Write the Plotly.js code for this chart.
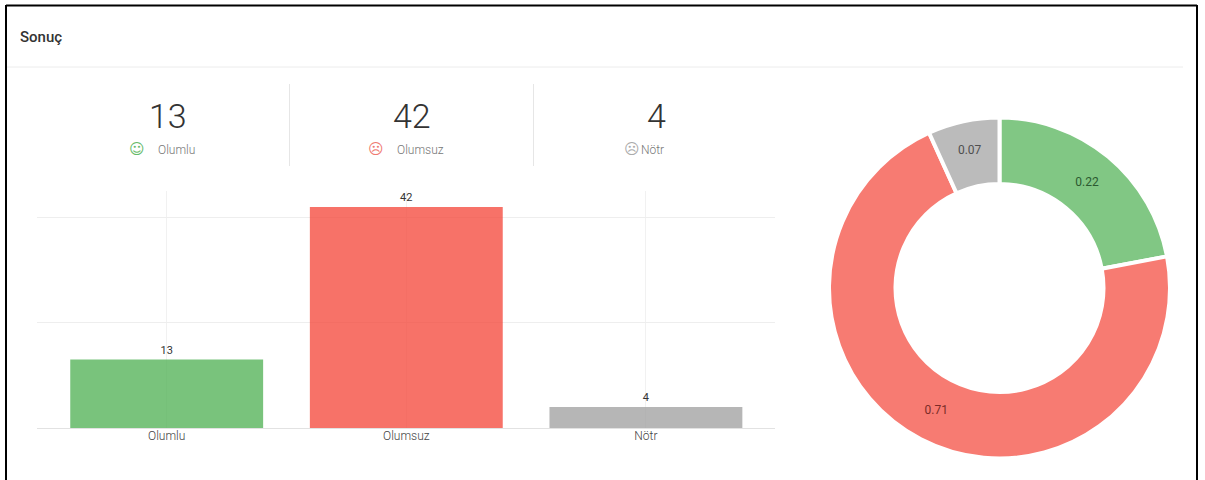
<!DOCTYPE html>
<html><head><meta charset="utf-8">
<script src="https://cdn.plot.ly/plotly-3.0.1.min.js"></script>
<style>html,body{margin:0;padding:0;background:#fff}#c{width:1205px;height:480px}</style></head>
<body><div id="c"></div>
<script>
const categories = ["Olumlu", "Olumsuz", "Nötr"];
const counts = [13, 42, 4];
const shareLabels = ["0.22", "0.71", "0.07"];
const barColors = ["rgba(76,175,80,0.75)", "rgba(244,67,54,0.75)", "rgba(158,158,158,0.75)"];
const pieColors = ["rgba(76,175,80,0.7)", "rgba(244,67,54,0.7)", "rgba(158,158,158,0.7)"];
const pieTextColors = ["#2c5a30", "#7a2c28", "#4f4f4f"];
const iconColors = ["#66BB6A", "#EF7A72", "#ABABAB"];
const iconGlyphs = ["\u263A", "\u2639", "\u2639"];
const statCenters = [168, 412, 656];
const labelCenters = [176, 420, 652];
const iconCenters = [137, 376, 632];
const W = 1205, H = 480;
const px = x => x / W, py = y => 1 - y / H;
const FONT = "Roboto, sans-serif";

const bar = {
  type: "bar", x: categories, y: counts, text: counts.map(String),
  textposition: "outside", cliponaxis: false, width: 0.805,
  textfont: {family: FONT, size: 11, color: "#333"},
  marker: {color: barColors}, hoverinfo: "x+y", showlegend: false
};
const donut = {
  type: "pie", values: counts, labels: categories, text: shareLabels,
  textinfo: "text", textposition: "inside", insidetextorientation: "horizontal",
  sort: false, direction: "clockwise", rotation: 0, hole: 0.61,
  domain: {x: [px(829), px(1170)], y: [py(459.5), py(116.5)]},
  marker: {colors: pieColors, line: {color: "#fff", width: 4}},
  textfont: {family: FONT, size: 12, color: pieTextColors}, showlegend: false
};

const line = (x0, y0, x1, y1, color, width) => ({
  type: "line", xref: "paper", yref: "paper",
  x0: px(x0), y0: py(y0), x1: px(x1), y1: py(y1), line: {color, width}
});
const shapes = [
  line(6, 5.5, 1197, 5.5, "#000", 2),
  line(6, 5, 6, 480, "#000", 2),
  line(1197, 5, 1197, 480, "#000", 2),
  line(7, 67, 1183, 67, "#ececec", 1),
  line(289.5, 84, 289.5, 166, "#e6e6e6", 1),
  line(533.5, 84, 533.5, 166, "#e6e6e6", 1)
];
const note = (x, y, text, font, extra) => Object.assign({
  xref: "paper", yref: "paper", x: px(x), y: py(y), text, showarrow: false,
  xanchor: "center", yanchor: "middle", borderpad: 0, borderwidth: 0, font
}, extra || {});
const annotations = [
  note(20, 37, "Sonuç", {family: FONT, size: 15, color: "#333", weight: 500}, {xanchor: "left"})
];
categories.forEach((c, i) => {
  annotations.push(note(statCenters[i], 116, String(counts[i]), {family: FONT, size: 34, color: "#333", weight: 300}));
  annotations.push(note(iconCenters[i], 149, iconGlyphs[i], {family: "DejaVu Sans", size: 15, color: iconColors[i]}));
  annotations.push(note(labelCenters[i], 150, c, {family: FONT, size: 12, color: "#777", weight: 300}));
});

Plotly.newPlot("c", [bar, donut], {
  width: W, height: H, margin: {l: 0, r: 0, t: 0, b: 0},
  paper_bgcolor: "#fff", plot_bgcolor: "#fff",
  xaxis: {
    domain: [px(37.3), px(775.3)], range: [-0.54, 2.54], type: "category",
    showgrid: true, gridcolor: "#f1f1f1", gridwidth: 1, ticks: "", ticklabelstandoff: -3,
    tickfont: {family: FONT, size: 12, color: "#444", weight: 300}, zeroline: false, fixedrange: true,
    showline: true, linecolor: "#e2e2e2", linewidth: 1, automargin: false
  },
  yaxis: {
    domain: [py(428), py(191.3)], range: [0, 45], tickvals: [0, 20, 40],
    showticklabels: false, showgrid: true, gridcolor: "#eeeeee", gridwidth: 1,
    zeroline: false, fixedrange: true, automargin: false
  },
  shapes, annotations
}, {displayModeBar: false, staticPlot: true});
</script></body></html>
